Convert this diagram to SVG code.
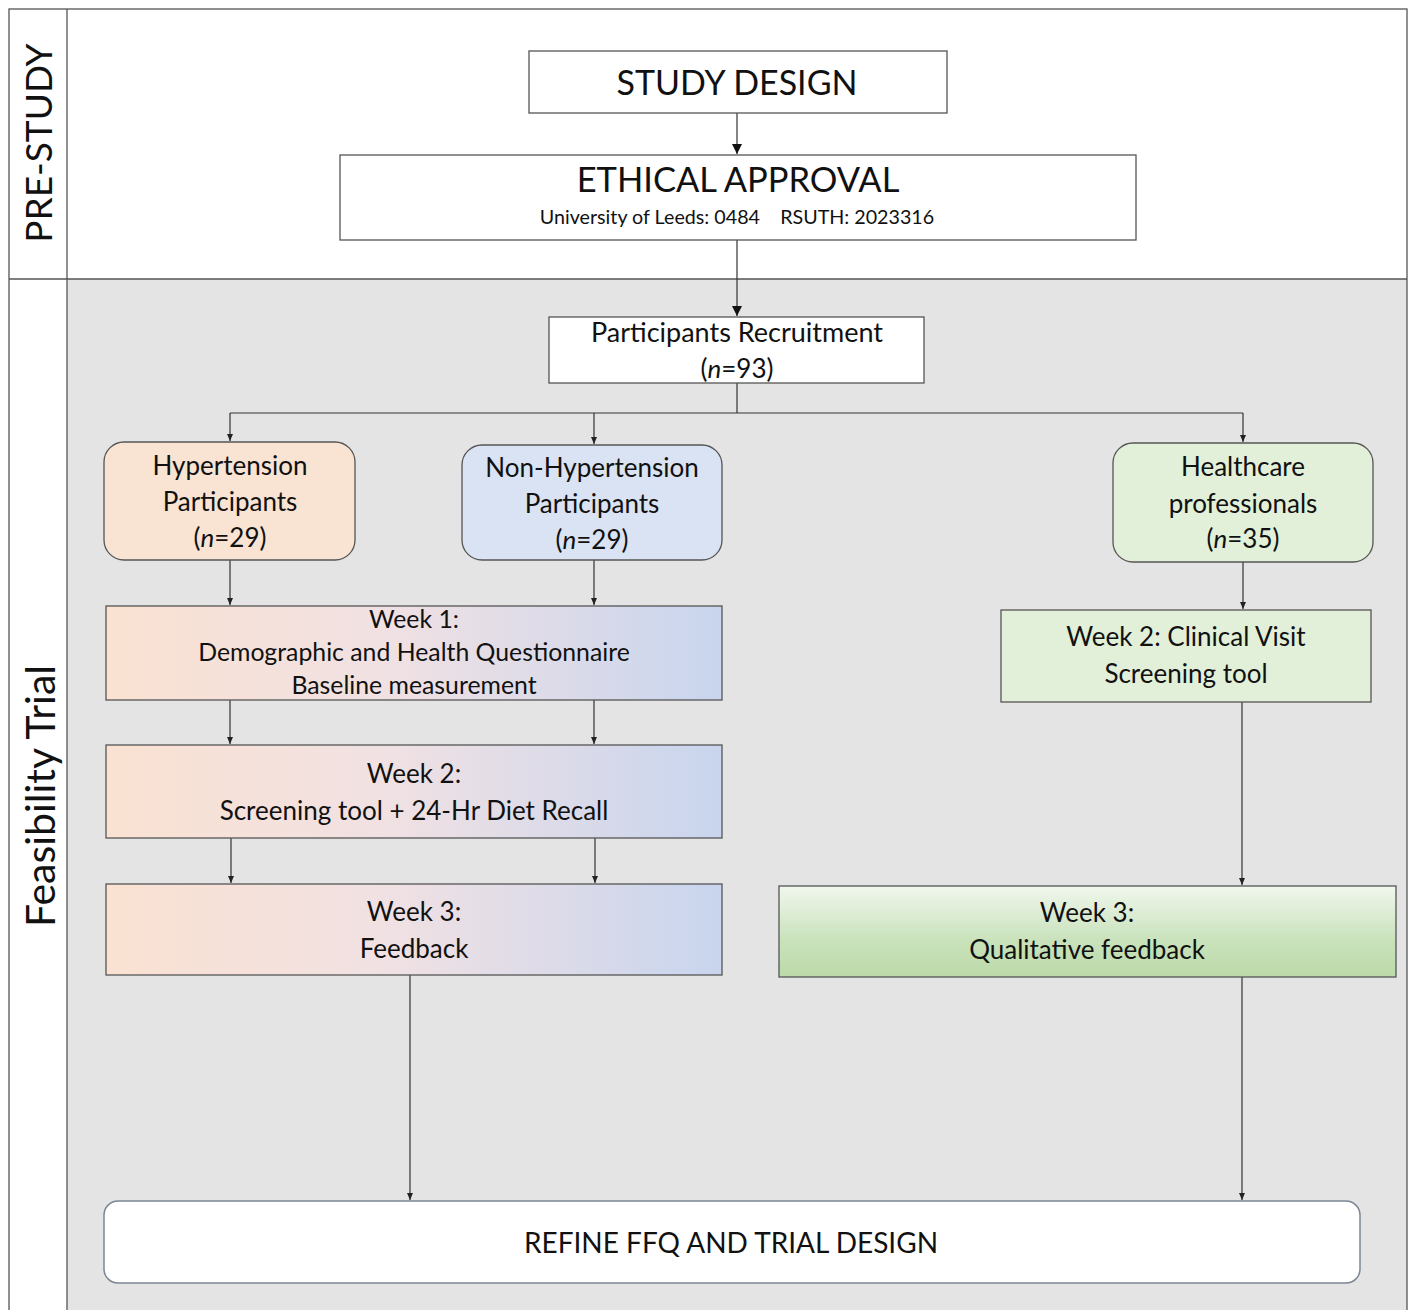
<svg xmlns="http://www.w3.org/2000/svg" width="1409" height="1310" viewBox="0 0 1409 1310">
<defs>
<style>
text{font-family:Lato,"Open Sans","Liberation Sans",sans-serif;fill:#111;text-anchor:middle}
.box{stroke:#555;stroke-width:1.3}
.ln{stroke:#333;stroke-width:1.2;fill:none}
.t26{font-size:26px}
.t24{font-size:24.8px}
</style>
<marker id="ah" markerWidth="8" markerHeight="8" refX="7" refY="4" orient="auto" markerUnits="userSpaceOnUse">
<path d="M0,1 L7,4 L0,7 Z" fill="#222"/>
</marker>
<marker id="ahb" markerWidth="12" markerHeight="12" refX="10" refY="5" orient="auto" markerUnits="userSpaceOnUse">
<path d="M0,0 L10,5 L0,10 Z" fill="#111"/>
</marker>
<linearGradient id="gh" x1="0" y1="0" x2="1" y2="0">
<stop offset="0" stop-color="#fae2d2"/>
<stop offset="0.45" stop-color="#f1e1e3"/>
<stop offset="1" stop-color="#c8d5ee"/>
</linearGradient>
<linearGradient id="gg" x1="0" y1="0" x2="0" y2="1">
<stop offset="0" stop-color="#f0f7ed"/>
<stop offset="0.6" stop-color="#c9e2bb"/>
<stop offset="1" stop-color="#bcdaa9"/>
</linearGradient>
</defs>
<rect width="1409" height="1310" fill="#fff"/>
<g id="frame">
<rect x="67" y="279" width="1340" height="1031" fill="#e4e4e4"/>
<rect x="9" y="9" width="1398" height="1310" fill="none" stroke="#555" stroke-width="1.3"/>
<line x1="67" y1="9" x2="67" y2="1310" stroke="#555" stroke-width="1.3"/>
<line x1="9" y1="279" x2="1407" y2="279" stroke="#555" stroke-width="1.3"/>
<text x="0" y="0" transform="translate(52,143) rotate(-90)" font-size="37">PRE-STUDY</text>
<text x="0" y="0" transform="translate(55,796) rotate(-90)" font-size="41">Feasibility Trial</text>
</g>
<g id="connectors">
<line class="ln" x1="737" y1="113" x2="737" y2="154" marker-end="url(#ahb)"/>
<line class="ln" x1="737" y1="240" x2="737" y2="316" marker-end="url(#ahb)"/>
<polyline class="ln" points="737,383 737,413"/>
<line class="ln" x1="230" y1="413" x2="1243" y2="413"/>
<line class="ln" x1="230" y1="413" x2="230" y2="441" marker-end="url(#ah)"/>
<line class="ln" x1="594" y1="413" x2="594" y2="444" marker-end="url(#ah)"/>
<line class="ln" x1="1243" y1="413" x2="1243" y2="442" marker-end="url(#ah)"/>
<line class="ln" x1="230" y1="560" x2="230" y2="605" marker-end="url(#ah)"/>
<line class="ln" x1="594" y1="560" x2="594" y2="605" marker-end="url(#ah)"/>
<line class="ln" x1="1243" y1="562" x2="1243" y2="609" marker-end="url(#ah)"/>
<line class="ln" x1="230" y1="700" x2="230" y2="744" marker-end="url(#ah)"/>
<line class="ln" x1="594" y1="700" x2="594" y2="744" marker-end="url(#ah)"/>
<line class="ln" x1="231" y1="838" x2="231" y2="883" marker-end="url(#ah)"/>
<line class="ln" x1="595" y1="838" x2="595" y2="883" marker-end="url(#ah)"/>
<line class="ln" x1="1242" y1="702" x2="1242" y2="885" marker-end="url(#ah)"/>
<line class="ln" x1="410" y1="975" x2="410" y2="1200" marker-end="url(#ah)"/>
<line class="ln" x1="1242" y1="977" x2="1242" y2="1200" marker-end="url(#ah)"/>
</g>
<g id="study-design">
<rect class="box" x="529" y="51" width="418" height="62" fill="#fff"/>
<text x="737" y="95" font-size="34">STUDY DESIGN</text>
</g>
<g id="ethical-approval">
<rect class="box" x="340" y="155" width="796" height="85" fill="#fff"/>
<text x="738" y="192" font-size="34.5">ETHICAL APPROVAL</text>
<text x="737" y="224" font-size="19.7" xml:space="preserve">University of Leeds: 0484    RSUTH: 2023316</text>
</g>
<g id="recruitment">
<rect class="box" x="549" y="317" width="375" height="66" fill="#fff"/>
<text x="737" y="342" font-size="27">Participants Recruitment</text>
<text class="t26" x="737" y="378">(<tspan font-style="italic">n</tspan>=93)</text>
</g>
<g id="hypertension">
<rect class="box" x="104" y="442" width="251" height="118" rx="20" fill="#f9e3d3"/>
<text class="t26" x="230" y="475">Hypertension</text>
<text class="t26" x="230" y="511">Participants</text>
<text class="t26" x="230" y="547">(<tspan font-style="italic">n</tspan>=29)</text>
</g>
<g id="non-hypertension">
<rect class="box" x="462" y="445" width="260" height="115" rx="20" fill="#dae3f3"/>
<text class="t26" x="592" y="477">Non-Hypertension</text>
<text class="t26" x="592" y="513">Participants</text>
<text class="t26" x="592" y="549">(<tspan font-style="italic">n</tspan>=29)</text>
</g>
<g id="healthcare">
<rect class="box" x="1113" y="443" width="260" height="119" rx="20" fill="#e2f0d9"/>
<text class="t26" x="1243" y="476">Healthcare</text>
<text class="t26" x="1243" y="513">professionals</text>
<text class="t26" x="1243" y="548">(<tspan font-style="italic">n</tspan>=35)</text>
</g>
<g id="week1">
<rect class="box" x="106" y="606" width="616" height="94" fill="url(#gh)"/>
<text class="t24" x="414" y="628">Week 1:</text>
<text class="t24" x="414" y="661">Demographic and Health Questionnaire</text>
<text class="t24" x="414" y="694">Baseline measurement</text>
</g>
<g id="week2">
<rect class="box" x="106" y="745" width="616" height="93" fill="url(#gh)"/>
<text class="t26" x="414" y="783">Week 2:</text>
<text class="t26" x="414" y="820">Screening tool + 24-Hr Diet Recall</text>
</g>
<g id="week3">
<rect class="box" x="106" y="884" width="616" height="91" fill="url(#gh)"/>
<text class="t26" x="414" y="921">Week 3:</text>
<text class="t26" x="414" y="958">Feedback</text>
</g>
<g id="hp-week2">
<rect class="box" x="1001" y="610" width="370" height="92" fill="#e2f0d9"/>
<text class="t26" x="1186" y="646">Week 2: Clinical Visit</text>
<text class="t26" x="1186" y="683">Screening tool</text>
</g>
<g id="hp-week3">
<rect class="box" x="779" y="886" width="617" height="91" fill="url(#gg)"/>
<text class="t26" x="1087" y="922">Week 3:</text>
<text class="t26" x="1087" y="959">Qualitative feedback</text>
</g>
<g id="refine">
<rect x="104" y="1201" width="1256" height="82" rx="14" fill="#fff" stroke="#7c8696" stroke-width="1.5"/>
<text x="731" y="1253" font-size="28">REFINE FFQ AND TRIAL DESIGN</text>
</g>
</svg>
